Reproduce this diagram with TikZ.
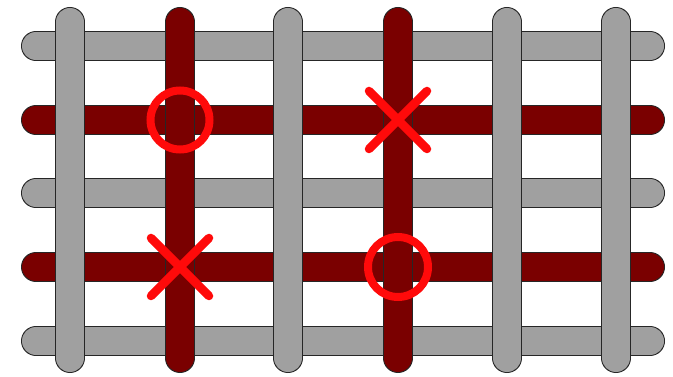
\documentclass[tikz,border=0pt]{standalone}
\definecolor{bargray}{HTML}{A0A0A0}
\definecolor{barred}{HTML}{7A0000}
\definecolor{markred}{HTML}{FF0A0A}
\tikzset{
  barline/.style={line width=30pt, line cap=round, draw=black!85},
  barfill/.style={line width=28pt, line cap=round, draw=#1},
  markline/.style={line width=8.5pt, line cap=round, draw=markred},
  markring/.style={line width=8pt, draw=markred},
}
\newcommand{\myhbar}[2]{\draw[barline] (36,#1) -- (650,#1); \draw[barfill=#2] (36,#1) -- (650,#1);}
\newcommand{\myvbar}[2]{\draw[barline] (#1,22) -- (#1,358); \draw[barfill=#2] (#1,22) -- (#1,358);}
\begin{document}
\begin{tikzpicture}[x=1pt,y=-1pt]
\useasboundingbox (0,0) rectangle (673,377);
% horizontal bars
\myhbar{46}{bargray}
\myhbar{120}{barred}
\myhbar{193}{bargray}
\myhbar{267}{barred}
\myhbar{341}{bargray}
% vertical bars
\myvbar{70}{bargray}
\myvbar{180}{barred}
\myvbar{288}{bargray}
\myvbar{398}{barred}
\myvbar{507}{bargray}
\myvbar{616}{bargray}
% marks
\draw[markring] (180,120) circle (29.5);
\draw[markring] (398,267) circle (30);
\draw[markline] (369,91) -- (427,149) (369,149) -- (427,91);
\draw[markline] (151,238) -- (209,296) (151,296) -- (209,238);
\end{tikzpicture}
\end{document}
